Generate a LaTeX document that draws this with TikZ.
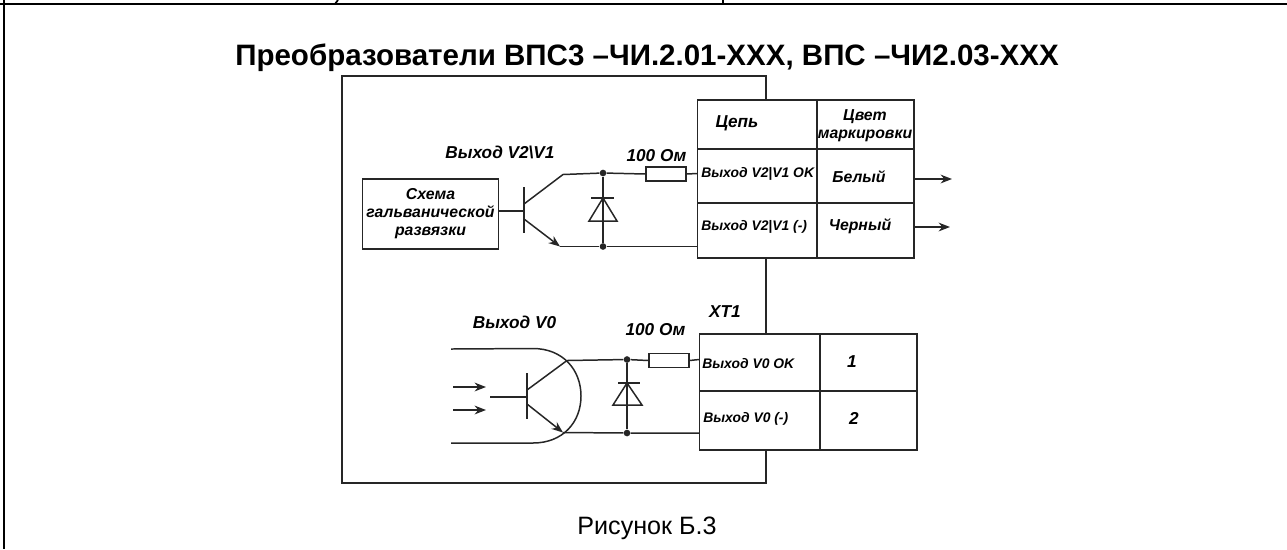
\documentclass[tikz,border=0pt]{standalone}
\usepackage{fontspec}
\setmainfont{Liberation Sans}
\usetikzlibrary{arrows.meta}

\tikzset{
  wire/.style={line width=0.85pt,draw=black!85},
  arrowwire/.style={wire,-{Stealth[length=6.5pt,width=5pt]}},
  cell/.style={draw=black!85,line width=0.8pt,inner sep=0pt},
  dotnode/.style={circle,fill=black!85,inner sep=0pt,minimum size=3.8pt},
  resistor/.style={draw=black!85,line width=0.85pt,inner sep=0pt,minimum width=22.7pt,minimum height=8pt},
  lbl/.style={inner sep=0pt,font=\bfseries\itshape\fontsize{9.8}{11}\selectfont},
  celltext/.style={inner sep=0pt,font=\bfseries\itshape\fontsize{7.9}{9}\selectfont}
}

\begin{document}
\begin{tikzpicture}[x=0.02cm,y=-0.02cm]
  \useasboundingbox (0,0) rectangle (1287,549);
  % page frame
  \draw[line width=1.2pt] (4,0) -- (4,549);
  \draw[line width=1.2pt] (0,4) -- (1287,4);
  \draw[line width=1pt] (723,0) -- (723,4);
  \draw[line width=1pt] (335,4) -- (338,0);
  \node[inner sep=0pt,font=\bfseries\fontsize{16.8}{19}\selectfont] (title) at (647,58) {Преобразователи ВПС3 –ЧИ.2.01-ХХХ, ВПС –ЧИ2.03-ХХХ};
  \node[inner sep=0pt,font=\fontsize{14.3}{16}\selectfont] (fig) at (647,528) {Рисунок Б.3};

  % table 1
  \node[cell,minimum width=68pt,minimum height=27.8pt] (t1a) at (757,124.5) {};
  \node[cell,minimum width=55pt,minimum height=27.8pt] (t1b) at (865.5,124.5) {};
  \node[cell,minimum width=68pt,minimum height=30.6pt] (t1c) at (757,176) {};
  \node[cell,minimum width=55pt,minimum height=30.6pt] (t1d) at (865.5,176) {};
  \node[cell,minimum width=68pt,minimum height=31.2pt] (t1e) at (757,230.5) {};
  \node[cell,minimum width=55pt,minimum height=31.2pt] (t1f) at (865.5,230.5) {};
  % table 2
  \node[cell,minimum width=68.6pt,minimum height=32.3pt] (t2a) at (759.5,362.5) {};
  \node[cell,minimum width=55.3pt,minimum height=32.3pt] (t2b) at (868.5,362.5) {};
  \node[cell,minimum width=68.6pt,minimum height=33.4pt] (t2c) at (759.5,420.5) {};
  \node[cell,minimum width=55.3pt,minimum height=33.4pt] (t2d) at (868.5,420.5) {};

  % inner frame
  \coordinate (fa) at (766,100);
  \coordinate (fb) at (766,76);
  \coordinate (fc) at (342,76);
  \coordinate (fd) at (342,483);
  \coordinate (fe) at (766,483);
  \coordinate (ff) at (766,450);
  \coordinate (fg) at (766,258);
  \coordinate (fh) at (766,334);
  \draw[wire,line width=1pt] (fa) -- (fb) -- (fc) -- (fd) -- (fe) -- (ff);
  \draw[wire,line width=1pt] (fg) -- (fh);

  % upper circuit
  \node[cell,minimum width=77.6pt,minimum height=39.7pt,align=center,font=\bfseries\itshape\fontsize{9}{10.2}\selectfont] (scheme) at (430.5,214) {Схема\\гальванической\\развязки};
  \coordinate (b1) at (524,211);
  \coordinate (bt1) at (524,187);
  \coordinate (bb1) at (524,233);
  \coordinate (c1) at (524,204);
  \coordinate (c1k) at (563,174.5);
  \coordinate (e1) at (524,219);
  \coordinate (e1k) at (560,246.5);
  \node[dotnode] (d1t) at (603,173) {};
  \node[dotnode] (d1b) at (603,246.5) {};
  \node[resistor] (r1) at (666,174) {};
  \coordinate (w1a) at (697,173.5);
  \coordinate (w1b) at (697,246.5);
  \draw[wire] (scheme.east |- b1) -- (b1);
  \draw[wire] (bt1) -- (bb1);
  \draw[wire] (c1) -- (c1k) -- (d1t) -- (r1.west);
  \draw[wire] (r1.east) -- (w1a);
  \draw[arrowwire] (e1) -- (e1k);
  \draw[wire] (e1k) -- (d1b) -- (w1b);
  \coordinate (k1) at (603,198);
  \coordinate (k1l) at (591,198);
  \coordinate (k1r) at (614,198);
  \coordinate (a1l) at (589,221);
  \coordinate (a1r) at (617,221);
  \draw[wire] (d1t) -- (d1b);
  \draw[wire] (k1l) -- (k1r);
  \draw[wire] (k1) -- (a1l) -- (a1r) -- cycle;
  \coordinate (o1) at (952,179);
  \coordinate (o2) at (950,227);
  \draw[arrowwire] (t1d.east |- o1) -- (o1);
  \draw[arrowwire] (t1f.east |- o2) -- (o2);

  % lower circuit
  \coordinate (l1) at (451,349);
  \coordinate (l2) at (451,443);
  \coordinate (l1k) at (533,348.5);
  \coordinate (l2k) at (533,443);
  \draw[wire] (l1) -- (l1k) .. controls (563,348.5) and (581,370) .. (581,396) .. controls (581,422) and (563,443) .. (l2k) -- (l2);
  \coordinate (p1) at (453,387);
  \coordinate (p1k) at (486,387);
  \coordinate (p2) at (453,410);
  \coordinate (p2k) at (486,410);
  \draw[arrowwire] (p1) -- (p1k);
  \draw[arrowwire] (p2) -- (p2k);
  \coordinate (b2s) at (490,397);
  \coordinate (b2) at (527,397);
  \coordinate (bt2) at (527,373);
  \coordinate (bb2) at (527,419);
  \coordinate (c2) at (527,390);
  \coordinate (c2k) at (567,360.5);
  \coordinate (e2) at (527,404);
  \coordinate (e2k) at (563,432.5);
  \node[dotnode] (d2t) at (627,359.5) {};
  \node[dotnode] (d2b) at (627,433) {};
  \node[resistor] (r2) at (669,360.5) {};
  \coordinate (w2a) at (699,359.5);
  \coordinate (w2b) at (699,433);
  \draw[wire] (b2s) -- (b2);
  \draw[wire] (bt2) -- (bb2);
  \draw[wire] (c2) -- (c2k) -- (d2t) -- (r2.west);
  \draw[wire] (r2.east) -- (w2a);
  \draw[arrowwire] (e2) -- (e2k);
  \draw[wire] (e2k) -- (d2b) -- (w2b);
  \coordinate (k2) at (627,383);
  \coordinate (k2l) at (618,383);
  \coordinate (k2r) at (640,383);
  \coordinate (a2l) at (613,405);
  \coordinate (a2r) at (642,405);
  \draw[wire] (d2t) -- (d2b);
  \draw[wire] (k2l) -- (k2r);
  \draw[wire] (k2) -- (a2l) -- (a2r) -- cycle;

  % labels
  \node[lbl] (v21) at (500,152) {Выход V2\textbackslash V1};
  \node[lbl] (om1) at (656.5,156) {100 Ом};
  \node[lbl] (v0) at (514.5,322) {Выход V0};
  \node[lbl] (om2) at (655.5,330) {100 Ом};
  \node[lbl] (xt) at (725,312) {ХТ1};
  \node[lbl] (hc) at (737,123) {Цепь};
  \node[celltext,align=center,font=\bfseries\itshape\fontsize{9}{10.2}\selectfont] (hm) at (865,126) {Цвет\\маркировки};
  \node[celltext,anchor=west] (c1t) at (701,174) {Выход V2|V1 OK};
  \node[celltext,anchor=west] (c2t) at (701,227) {Выход V2|V1 (-)};
  \node[lbl,font=\bfseries\itshape\fontsize{9}{11}\selectfont] (wt) at (859,177) {Белый};
  \node[lbl,font=\bfseries\itshape\fontsize{9}{11}\selectfont] (bk) at (860,226) {Черный};
  \node[celltext,anchor=west] (c3t) at (702,364) {Выход V0 OK};
  \node[celltext,anchor=west] (c4t) at (703,419) {Выход V0 (-)};
  \node[lbl] (n1) at (852,362) {1};
  \node[lbl] (n2) at (854,418) {2};
\end{tikzpicture}
\end{document}
